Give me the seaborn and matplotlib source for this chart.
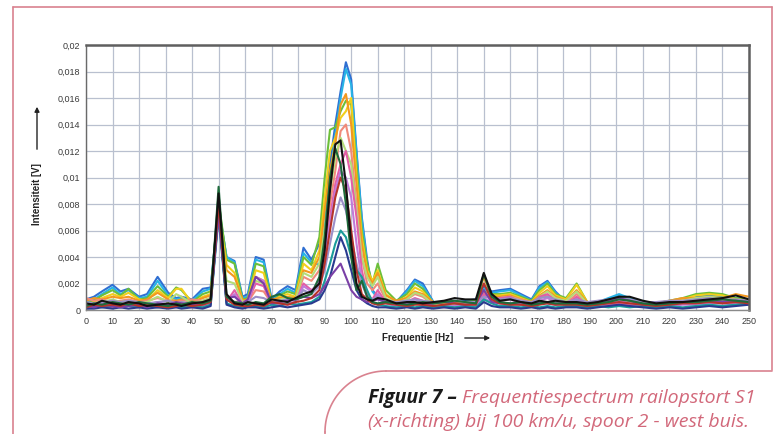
# Frequentiespectrum railopstort S1 - recreated with seaborn
import numpy as np
import pandas as pd
import matplotlib
matplotlib.use("Agg")
import matplotlib.pyplot as plt
import seaborn as sns
from matplotlib.ticker import MultipleLocator, FuncFormatter

# =====================================================
# DATA  (values in units of 0.1 mV)
# =====================================================

freq_hz = [0, 3, 6, 10, 13, 16, 20, 23, 27, 31,
           34, 36, 40, 44, 47, 50, 53, 56, 59, 61,
           64, 67, 70, 73, 76, 79, 82, 85, 88, 90,
           92, 94, 96, 98, 100, 102, 104, 106, 108, 110,
           113, 117, 121, 124, 127, 131, 135, 139, 143, 147,
           150, 153, 156, 160, 164, 168, 171, 174, 177, 181,
           185, 189, 193, 197, 201, 205, 210, 215, 220, 225,
           230, 235, 240, 245, 250]

run_blue = [8, 10, 14, 19, 14, 16, 10, 12, 25, 13,
            9, 10, 8, 16, 17, 78, 40, 37, 10, 12,
            40, 38, 8, 14, 18, 15, 47, 38, 50, 75,
            110, 140, 165, 187, 174, 120, 70, 38, 15, 10,
            8, 6, 15, 23, 20, 6, 5, 6, 7, 8,
            18, 14, 15, 16, 12, 8, 18, 22, 14, 6,
            8, 5, 6, 8, 11, 9, 5, 5, 6, 7,
            10, 11, 10, 9, 8]

run_cyan = [6, 8, 12, 17, 12, 15, 9, 10, 22, 11,
            8, 9, 7, 14, 16, 76, 40, 36, 9, 10,
            38, 36, 7, 12, 16, 13, 43, 36, 34, 62,
            100, 132, 160, 182, 170, 118, 68, 35, 14, 9,
            7, 6, 14, 22, 18, 6, 5, 5, 6, 7,
            16, 13, 14, 15, 11, 7, 17, 21, 13, 6,
            7, 5, 6, 9, 12, 9, 5, 5, 6, 8,
            11, 12, 11, 9, 8]

run_green = [5, 7, 11, 15, 11, 16, 8, 9, 18, 10,
             17, 15, 6, 12, 14, 82, 38, 35, 8, 9,
             35, 33, 6, 11, 14, 12, 40, 34, 55, 100,
             136, 138, 150, 158, 155, 110, 60, 35, 20, 35,
             15, 7, 12, 20, 16, 5, 5, 5, 6, 7,
             14, 12, 12, 13, 10, 7, 15, 20, 12, 9,
             20, 6, 5, 7, 10, 8, 5, 5, 7, 9,
             12, 13, 12, 9, 8]

run_yellow = [4, 6, 9, 12, 10, 13, 8, 7, 15, 9,
              16, 16, 5, 10, 12, 75, 34, 28, 7, 8,
              30, 28, 6, 10, 12, 10, 35, 30, 45, 85,
              120, 130, 145, 150, 160, 100, 55, 30, 22, 30,
              12, 6, 10, 17, 14, 5, 4, 5, 5, 6,
              12, 11, 11, 12, 9, 6, 13, 18, 11, 8,
              19, 6, 5, 6, 8, 7, 5, 5, 6, 8,
              11, 12, 11, 8, 7]

run_orange = [7, 9, 8, 10, 9, 10, 7, 8, 13, 8,
              7, 8, 6, 9, 11, 72, 30, 25, 8, 7,
              25, 22, 8, 9, 10, 9, 30, 28, 40, 75,
              105, 125, 155, 163, 140, 95, 50, 28, 20, 28,
              11, 7, 9, 14, 12, 6, 5, 5, 6, 6,
              25, 10, 10, 11, 8, 6, 11, 15, 10, 7,
              15, 6, 5, 6, 8, 7, 6, 5, 7, 9,
              9, 10, 9, 12, 10]

run_salmon = [9, 7, 8, 6, 7, 8, 6, 7, 9, 7,
              6, 7, 8, 7, 9, 74, 8, 6, 7, 6,
              15, 14, 5, 6, 8, 7, 25, 22, 30, 50,
              80, 105, 135, 140, 120, 80, 40, 20, 15, 20,
              8, 5, 8, 12, 10, 4, 3, 4, 5, 4,
              14, 9, 9, 10, 8, 5, 9, 11, 8, 5,
              12, 5, 4, 5, 6, 5, 4, 4, 5, 6,
              6, 7, 6, 5, 5]

run_lightgreen = [4, 5, 6, 8, 6, 7, 5, 6, 10, 6,
                  12, 10, 5, 7, 9, 77, 22, 20, 6, 7,
                  22, 20, 5, 8, 9, 8, 28, 25, 35, 60,
                  90, 115, 130, 120, 110, 75, 40, 25, 18, 25,
                  9, 5, 8, 13, 11, 4, 4, 4, 5, 5,
                  11, 9, 9, 10, 7, 5, 10, 14, 9, 7,
                  14, 5, 4, 5, 6, 5, 4, 4, 5, 7,
                  9, 10, 9, 7, 6]

run_pink = [1, 2, 3, 2, 4, 3, 2, 3, 2, 3,
            2, 3, 2, 3, 5, 78, 6, 15, 4, 6,
            20, 18, 4, 5, 4, 5, 20, 15, 20, 40,
            70, 95, 110, 120, 100, 70, 30, 12, 8, 15,
            6, 3, 6, 9, 7, 3, 2, 3, 4, 3,
            12, 8, 9, 10, 6, 4, 10, 12, 7, 4,
            10, 4, 3, 4, 5, 4, 3, 3, 4, 5,
            5, 6, 7, 5, 4]

run_violet = [3, 4, 5, 4, 5, 4, 3, 4, 6, 4,
              4, 5, 3, 4, 6, 73, 6, 12, 3, 5,
              25, 22, 3, 4, 5, 6, 18, 14, 22, 45,
              65, 90, 105, 100, 85, 50, 22, 10, 6, 12,
              5, 3, 5, 8, 6, 3, 3, 3, 3, 3,
              9, 6, 7, 8, 5, 3, 7, 9, 6, 4,
              8, 4, 3, 5, 7, 5, 3, 3, 3, 4,
              4, 5, 5, 4, 4]

run_lavender = [6, 5, 6, 7, 6, 7, 6, 5, 6, 7,
                5, 6, 5, 6, 8, 75, 7, 6, 5, 6,
                10, 9, 6, 7, 8, 7, 15, 12, 18, 30,
                50, 70, 85, 75, 55, 35, 20, 10, 8, 10,
                7, 6, 7, 8, 7, 6, 6, 7, 6, 6,
                10, 9, 8, 9, 7, 6, 9, 10, 8, 6,
                8, 6, 7, 8, 9, 8, 6, 6, 7, 7,
                8, 9, 8, 8, 7]

run_teal = [2, 3, 2, 3, 2, 3, 2, 3, 2, 3,
            3, 2, 3, 2, 4, 70, 5, 3, 2, 3,
            3, 2, 4, 3, 5, 4, 5, 6, 10, 22,
            35, 50, 60, 55, 40, 30, 25, 15, 6, 4,
            3, 2, 3, 2, 3, 2, 3, 2, 3, 2,
            8, 5, 3, 3, 2, 3, 2, 3, 2, 3,
            3, 2, 3, 2, 3, 2, 3, 2, 3, 2,
            3, 4, 3, 4, 5]

run_navy = [1, 1, 2, 1, 2, 1, 2, 1, 2, 1,
            2, 1, 2, 1, 3, 76, 4, 2, 1, 2,
            2, 1, 2, 3, 2, 3, 4, 5, 8, 15,
            25, 40, 55, 45, 30, 15, 8, 5, 3, 2,
            2, 1, 2, 1, 2, 1, 2, 1, 2, 1,
            6, 3, 2, 2, 1, 2, 1, 2, 1, 2,
            2, 1, 2, 3, 4, 3, 2, 1, 2, 1,
            2, 3, 2, 3, 4]

run_purple = [3, 2, 4, 3, 2, 3, 4, 2, 5, 4,
              6, 5, 4, 5, 7, 72, 9, 10, 5, 8,
              25, 20, 5, 6, 7, 8, 10, 9, 12, 18,
              25, 30, 35, 25, 15, 10, 8, 6, 7, 8,
              6, 5, 4, 5, 4, 5, 6, 5, 4, 5,
              15, 6, 5, 5, 4, 5, 6, 5, 4, 5,
              5, 4, 6, 7, 9, 7, 4, 5, 5, 6,
              6, 7, 6, 7, 6]

run_brown = [2, 4, 3, 4, 3, 5, 3, 4, 3, 2,
             3, 4, 3, 4, 6, 80, 8, 4, 3, 3,
             4, 3, 6, 5, 4, 6, 7, 9, 15, 35,
             60, 85, 100, 90, 60, 30, 12, 8, 5, 4,
             5, 4, 3, 4, 4, 3, 4, 5, 4, 4,
             20, 8, 5, 4, 4, 3, 4, 5, 4, 4,
             4, 3, 4, 5, 6, 5, 4, 3, 4, 5,
             5, 6, 5, 6, 5]

run_darkgreen = [3, 5, 4, 6, 5, 4, 6, 5, 4, 3,
                 5, 4, 6, 5, 7, 93, 10, 6, 5, 4,
                 6, 5, 10, 12, 9, 8, 10, 12, 25, 55,
                 100, 122, 110, 80, 40, 15, 22, 10, 6, 5,
                 6, 5, 4, 5, 6, 5, 6, 7, 6, 5,
                 27, 10, 6, 5, 6, 4, 5, 6, 5, 5,
                 5, 4, 5, 6, 8, 7, 5, 4, 5, 6,
                 6, 7, 8, 7, 6]

run_black = [5, 4, 7, 5, 4, 6, 5, 3, 4, 5,
             4, 3, 5, 6, 8, 88, 12, 5, 4, 6,
             5, 4, 8, 7, 6, 9, 12, 14, 20, 45,
             90, 125, 128, 95, 50, 20, 10, 8, 7, 9,
             8, 5, 6, 6, 5, 6, 7, 9, 8, 8,
             28, 12, 7, 8, 6, 5, 7, 6, 7, 6,
             6, 5, 6, 8, 10, 10, 7, 5, 6, 6,
             7, 8, 9, 11, 8]

run_names = ["blue", "cyan", "green", "yellow", "orange", "salmon",
             "lightgreen", "pink", "violet", "lavender", "teal", "navy",
             "purple", "brown", "darkgreen", "black"]
runs = [run_blue, run_cyan, run_green, run_yellow, run_orange, run_salmon,
        run_lightgreen, run_pink, run_violet, run_lavender, run_teal, run_navy,
        run_purple, run_brown, run_darkgreen, run_black]
run_colors = ["#2f6fd2", "#27b3e6", "#6cbf3a", "#f1cf1c", "#f3981f", "#f08a7a",
              "#b5dc78", "#e35ea5", "#c07ad8", "#9b8fc8", "#1a9c9a", "#2a3a8f",
              "#7a3fa6", "#b5332a", "#1e6b3a", "#111111"]

y_ticks = [0, 0.002, 0.004, 0.006, 0.008, 0.01, 0.012, 0.014, 0.016, 0.018, 0.02]

rows = []
for name, vals in zip(run_names, runs):
    for f, v in zip(freq_hz, vals):
        rows.append({"freq": f, "volt": v * 1e-4, "run": name})
df = pd.DataFrame(rows)

# =====================================================
# FIGURE
# =====================================================

sns.set_style("whitegrid")
plt.rcParams["font.family"] = ["Liberation Sans", "DejaVu Sans"]

W, H = 778, 434
fig = plt.figure(figsize=(W / 100, H / 100), dpi=100, facecolor="white")

# background layer in pixel coordinates for frame, captions and arrows
bg = fig.add_axes([0, 0, 1, 1], zorder=-1)
bg.set_xlim(0, W)
bg.set_ylim(H, 0)
bg.axis("off")

pink = "#d9828f"
bg.plot([13, 13], [7, 434], color=pink, lw=1.2)
bg.plot([13, 772], [7, 7], color=pink, lw=1.2)
bg.plot([772, 772], [7, 370], color=pink, lw=1.2)
bg.plot([386, 772], [371, 371], color=pink, lw=1.2)
t = np.linspace(np.pi / 2, np.pi, 40)
bg.plot(386 + 61 * np.cos(t), 432 - 61 * np.sin(t), color=pink, lw=1.2)
bg.plot([325, 325], [432, 434], color=pink, lw=1.2)

# main chart
ax = fig.add_axes([86 / W, 1 - 310 / H, 663 / W, 265 / H])
ax.set_facecolor("white")

sns.lineplot(
    data=df,
    x="freq",
    y="volt",
    hue="run",
    hue_order=run_names,
    palette=run_colors,
    estimator=None,
    sort=False,
    linewidth=1.5,
    legend=False,
    ax=ax
)

ax.set_xlim(0, 250)
ax.set_ylim(0, 0.02)
ax.xaxis.set_major_locator(MultipleLocator(10))
ax.set_yticks(y_ticks)
ax.yaxis.set_major_formatter(FuncFormatter(lambda v, p: f"{v:g}".replace(".", ",")))
ax.grid(True, color="#b9c0cf", linewidth=0.9)
ax.set_axisbelow(True)
ax.tick_params(length=0, labelsize=6.5, colors="#3a3a3a")
ax.tick_params(axis="x", pad=5)
ax.tick_params(axis="y", pad=4)
ax.set_xlabel("")
ax.set_ylabel("")

for side in ["top", "right"]:
    ax.spines[side].set_color("#5f5f5f")
    ax.spines[side].set_linewidth(1.8)
ax.spines["left"].set_color("#6a6a6a")
ax.spines["left"].set_linewidth(1.0)
ax.spines["bottom"].set_color("#8a8a8a")
ax.spines["bottom"].set_linewidth(1.0)

# axis titles with arrows
bg.text(382, 338, "Frequentie [Hz]", fontsize=7, fontweight="bold",
        color="#222222", ha="left", va="center")
bg.annotate("", xy=(493, 338), xytext=(462, 338),
            arrowprops=dict(arrowstyle="-|>", color="#222222", lw=1.0,
                            mutation_scale=7))

bg.text(37, 194, "Intensiteit [V]", fontsize=7, fontweight="bold",
        color="#222222", rotation=90, ha="center", va="center")
bg.annotate("", xy=(37, 104), xytext=(37, 152),
            arrowprops=dict(arrowstyle="-|>", color="#222222", lw=1.0,
                            mutation_scale=7))

# caption
cap_font = ["Open Sans", "Lato", "DejaVu Sans"]
t1 = bg.text(368, 403, "Figuur 7 \u2013 ", fontsize=14, fontweight="bold",
             style="italic", family=cap_font, color="#1a1a1a",
             ha="left", va="baseline")
fig.canvas.draw()
ext = t1.get_window_extent()
x_next = ext.x1
bg.text(x_next, 403, "Frequentiespectrum railopstort S1", fontsize=14,
        style="italic", family=cap_font, color="#d2687a",
        ha="left", va="baseline")
bg.text(368, 427, "(x-richting) bij 100 km/u, spoor 2 - west buis.", fontsize=14,
        style="italic", family=cap_font, color="#d2687a",
        ha="left", va="baseline")

fig.savefig("out.png", dpi=100, facecolor="white")
